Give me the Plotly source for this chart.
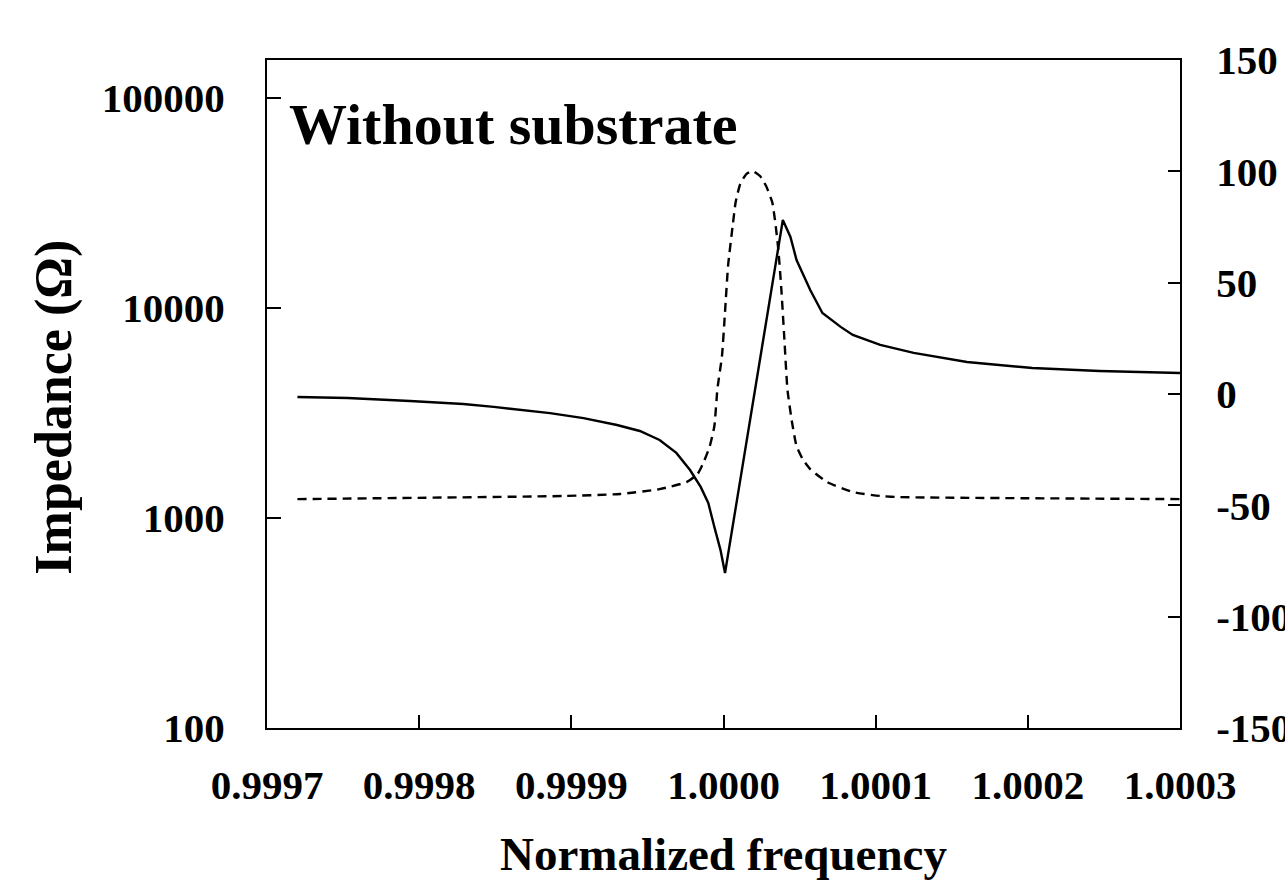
import plotly.graph_objects as go

# Impedance magnitude (solid, left log axis)
freq_z = [0.999720, 0.999753, 0.999794, 0.999829, 0.999849, 0.999868, 0.999886,
          0.999908, 0.999930, 0.999945, 0.999958, 0.999969, 0.999978, 0.999985,
          0.999990, 0.999994, 0.999998, 1.000001, 1.000039, 1.000044, 1.000048,
          1.000057, 1.000065, 1.000077, 1.000085, 1.000103, 1.000125, 1.000160,
          1.000203, 1.000247, 1.000300]
impedance = [3770, 3730, 3610, 3490, 3380, 3270, 3160,
             2990, 2773, 2596, 2352, 2042, 1693, 1406,
             1179, 906, 705, 547, 26240, 21780, 16930,
             12190, 9460, 8130, 7440, 6670, 6110, 5530,
             5180, 5010, 4900]

# Phase (dashed, right axis, degrees)
freq_p = [0.999720, 0.999895, 0.999932, 0.999958, 0.999976, 0.999983, 0.999987,
          0.999991, 0.999994, 0.999996, 0.999999, 1.000001, 1.000003, 1.000006,
          1.000008, 1.000011, 1.000015, 1.000019, 1.000024, 1.000028, 1.000032,
          1.000034, 1.000036, 1.000038, 1.000040, 1.000042, 1.000045, 1.000048,
          1.000052, 1.000057, 1.000068, 1.000085, 1.000103, 1.000116, 1.000300]
phase = [-47.2, -45.8, -44.9, -42.7, -39.5, -35.9, -30.5,
         -23.4, -14.4, 2.2, 17.1, 36.8, 57.5, 75.4,
         86.2, 94.3, 98.8, 100.2, 97.9, 93.4, 86.2,
         77.2, 65.1, 47.2, 24.7, 2.2, -12.6, -23.4,
         -29.2, -33.7, -39.5, -44.0, -45.8, -46.3, -47.2]

x_ticks = [0.9997, 0.9998, 0.9999, 1.0000, 1.0001, 1.0002, 1.0003]
x_ticktext = ["0.9997", "0.9998", "0.9999", "1.0000", "1.0001", "1.0002", "1.0003"]
y_ticks = [100, 1000, 10000, 100000]
y_ticktext = ["100", "1000", "10000", "100000"]
y2_ticks = [-150, -100, -50, 0, 50, 100, 150]
y2_ticktext = ["-150", "-100", "-50", "0", "50", "100", "150"]

FONT = "Liberation Serif"

fig = go.Figure()
fig.add_trace(go.Scatter(x=freq_z, y=impedance, mode="lines", name="Impedance",
                         line=dict(color="black", width=2.4), yaxis="y"))
fig.add_trace(go.Scatter(x=freq_p, y=phase, mode="lines", name="Phase",
                         line=dict(color="black", width=2.4, dash="9px,6px",
                                   shape="spline", smoothing=0.5), yaxis="y2"))

fig.update_layout(
    width=1285, height=880,
    margin=dict(l=267, r=105, t=60, b=152, autoexpand=False),
    paper_bgcolor="white", plot_bgcolor="white",
    showlegend=False,
    font=dict(family=FONT, color="black"),
    xaxis=dict(
        range=[0.9997, 1.0003], tickvals=x_ticks, ticktext=x_ticktext,
        ticks="inside", ticklen=13, tickwidth=1.5, tickcolor="black",
        showline=True, linewidth=2, linecolor="black", mirror=True,
        showgrid=False, zeroline=False,
        tickfont=dict(family=FONT, size=41, color="black", weight="bold"),
        ticklabelstandoff=20,
        title=dict(text="<b>Normalized frequency</b>", font=dict(family=FONT, size=47), standoff=38),
    ),
    yaxis=dict(
        type="log", range=[2, 5.181], tickvals=y_ticks, ticktext=y_ticktext,
        ticks="inside", ticklen=14, tickwidth=1.5, tickcolor="black",
        showline=True, linewidth=2, linecolor="black",
        showgrid=False, zeroline=False,
        tickfont=dict(family=FONT, size=41, color="black", weight="bold"),
        ticklabelstandoff=32,
    ),
    yaxis2=dict(
        overlaying="y", side="right", range=[-150, 150], tickvals=y2_ticks, ticktext=y2_ticktext,
        ticks="inside", ticklen=12, tickwidth=1.5, tickcolor="black",
        showline=True, linewidth=2, linecolor="black",
        showgrid=False, zeroline=False,
        tickfont=dict(family=FONT, size=41, color="black", weight="bold"),
        ticklabelstandoff=26,
    ),
    annotations=[
        dict(text="<b>Without substrate</b>", xref="paper", yref="paper",
             x=0.022, y=0.903, xanchor="left", yanchor="middle", showarrow=False,
             font=dict(family=FONT, size=58, color="black")),
        dict(text="<b>Impedance (Ω)</b>", xref="paper", yref="paper",
             x=-0.233, y=0.48, xanchor="center", yanchor="middle", showarrow=False,
             textangle=-90, font=dict(family=FONT, size=52, color="black")),
    ],
)

fig.write_html("out.html")
